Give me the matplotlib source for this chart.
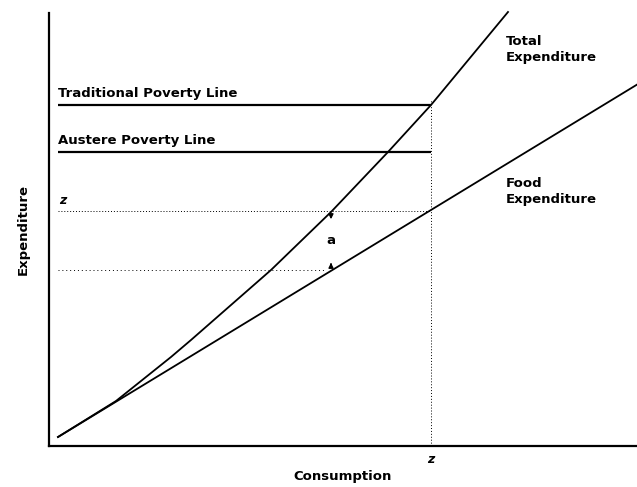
import matplotlib
matplotlib.use("Agg")
import matplotlib.pyplot as plt

# Data (units)
total_x = [9, 67, 122, 142, 222, 282, 339, 382, 459]
total_y = [9, 45, 89, 106, 176, 234, 294, 341, 434]
food_x = [9, 589]
food_y = [9, 362]
z_value = 382
z_level = 235
traditional_line = 341
austere_line = 294
lower_level = 176

plt.rcParams['font.family'] = ['DejaVu Sans']
fig = plt.figure(figsize=(6.37, 4.87), dpi=100)
ax = fig.add_axes([49/637, 41/487, 588/637, 433/487])
ax.set_xlim(0, 588)
ax.set_ylim(0, 433)

for s in ['top', 'right']:
    ax.spines[s].set_visible(False)
for s in ['left', 'bottom']:
    ax.spines[s].set_linewidth(1.6)
ax.set_xticks([z_value])
ax.set_xticklabels(['z'], fontstyle='italic', fontweight='bold', fontsize=9)
ax.tick_params(axis='x', length=0, pad=5)
ax.set_yticks([])

ax.plot(total_x, total_y, color='black', lw=1.3, clip_on=False)
ax.plot(food_x, food_y, color='black', lw=1.3, clip_on=False)

ax.hlines([traditional_line, austere_line], 9, z_value, color='black', lw=1.6)
ax.hlines(z_level, 9, z_value, color='black', lw=0.7, linestyles=(0, (1, 2)))
ax.hlines(lower_level, 9, 277, color='black', lw=0.7, linestyles=(0, (1, 3)))
ax.vlines(z_value, 0, 346, color='black', lw=0.7, linestyles=(0, (1, 2)))

fs = 9.5
ax.text(9, traditional_line + 5, 'Traditional Poverty Line', fontsize=fs, fontweight='bold', va='bottom', ha='left')
ax.text(9, austere_line + 5, 'Austere Poverty Line', fontsize=fs, fontweight='bold', va='bottom', ha='left')
ax.text(10, z_level + 4, 'z', fontsize=9, fontweight='bold', fontstyle='italic', va='bottom', ha='left')
ax.text(457, 411, 'Total\nExpenditure', fontsize=fs, fontweight='bold', va='top', ha='left', linespacing=1.25)
ax.text(457, 269, 'Food\nExpenditure', fontsize=fs, fontweight='bold', va='top', ha='left', linespacing=1.25)
ax.text(282, 206, 'a', fontsize=fs, fontweight='bold', va='center', ha='center')

ax.annotate('', xy=(282, 224), xytext=(282, 234),
            arrowprops=dict(arrowstyle='-|>', color='black', lw=1.0, mutation_scale=7))
ax.annotate('', xy=(282, 186), xytext=(282, 178),
            arrowprops=dict(arrowstyle='-|>', color='black', lw=1.0, mutation_scale=7))

ax.set_xlabel('Consumption', fontsize=fs, fontweight='bold', labelpad=3)
ax.set_ylabel('Expenditure', fontsize=fs, fontweight='bold', labelpad=14)

fig.savefig('out.png', dpi=100)
